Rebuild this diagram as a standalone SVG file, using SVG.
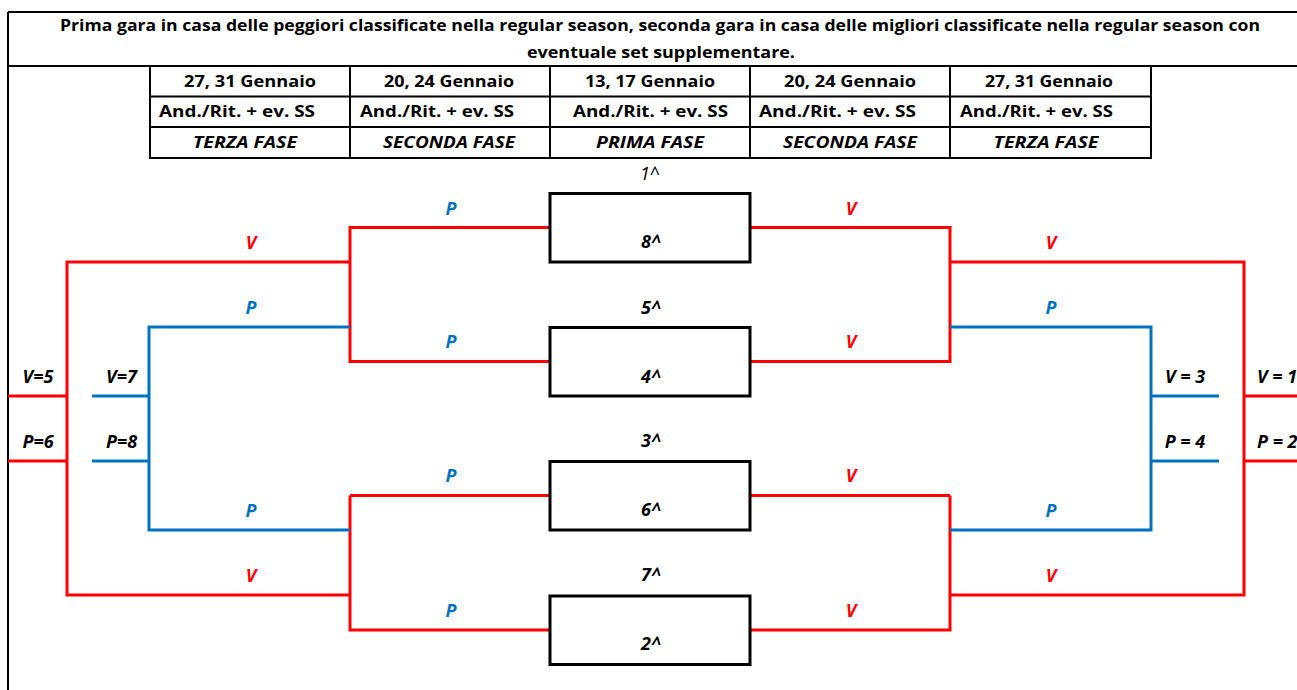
<svg xmlns="http://www.w3.org/2000/svg" width="1297" height="690" viewBox="0 0 1297 690">
<style>
text{font-family:"Open Sans","Noto Sans","Liberation Sans",Arial,sans-serif;font-weight:bold;font-size:16.5px;fill:#000}
.it{font-style:italic}
.mid{text-anchor:middle}
.red{fill:#FF0000}
.blue{fill:#0070C0}
.reg{font-weight:normal}
.lab{font-style:italic;font-size:18px}
.grid{stroke:#000;stroke-width:2;fill:none}
.box{fill:#fff;stroke:#000;stroke-width:3}
.cr{stroke:#FF0000;stroke-width:3;fill:none}
.cb{stroke:#0070C0;stroke-width:3;fill:none}
</style>
<rect width="1297" height="690" fill="#fff"/>
<g id="frame">
<path class="grid" d="M8,12 H1297 M8,12 V690 M8,66 H1297"/>
<text class="mid" x="660" y="31" textLength="1200" lengthAdjust="spacingAndGlyphs">Prima gara in casa delle peggiori classificate nella regular season, seconda gara in casa delle migliori classificate nella regular season con</text>
<text class="mid" x="661" y="58" textLength="268" lengthAdjust="spacingAndGlyphs">eventuale set supplementare.</text>
</g>
<g id="table">
<rect class="grid" x="150" y="66" width="1001" height="92"/>
<path class="grid" d="M150,96.5 H1151 M150,127 H1151 M350,66 V158 M550,66 V158 M750,66 V158 M950,66 V158"/>
<text class="mid" x="250" y="87" textLength="132" lengthAdjust="spacingAndGlyphs">27, 31 Gennaio</text>
<text class="mid" x="449" y="87" textLength="130" lengthAdjust="spacingAndGlyphs">20, 24 Gennaio</text>
<text class="mid" x="650" y="87" textLength="130" lengthAdjust="spacingAndGlyphs">13, 17 Gennaio</text>
<text class="mid" x="850" y="87" textLength="132" lengthAdjust="spacingAndGlyphs">20, 24 Gennaio</text>
<text class="mid" x="1049" y="87" textLength="128" lengthAdjust="spacingAndGlyphs">27, 31 Gennaio</text>
<text x="159" y="117" textLength="156" lengthAdjust="spacingAndGlyphs">And./Rit. + ev. SS</text>
<text x="360" y="117" textLength="154" lengthAdjust="spacingAndGlyphs">And./Rit. + ev. SS</text>
<text x="573" y="117" textLength="155" lengthAdjust="spacingAndGlyphs">And./Rit. + ev. SS</text>
<text x="759" y="117" textLength="157" lengthAdjust="spacingAndGlyphs">And./Rit. + ev. SS</text>
<text x="960" y="117" textLength="153" lengthAdjust="spacingAndGlyphs">And./Rit. + ev. SS</text>
<text class="it mid" x="245" y="148" textLength="104" lengthAdjust="spacingAndGlyphs">TERZA FASE</text>
<text class="it mid" x="449" y="148" textLength="132" lengthAdjust="spacingAndGlyphs">SECONDA FASE</text>
<text class="it mid" x="650" y="148" textLength="108" lengthAdjust="spacingAndGlyphs">PRIMA FASE</text>
<text class="it mid" x="850" y="148" textLength="134" lengthAdjust="spacingAndGlyphs">SECONDA FASE</text>
<text class="it mid" x="1046" y="148" textLength="105" lengthAdjust="spacingAndGlyphs">TERZA FASE</text>
</g>
<g id="connectors">
<path class="cr" d="M550,227.5 H350 V361.5 H550 M350,262 H67 V595 H350 M350,495.5 V630 H550 M350,495.5 H550 M8,396 H67 M8,461 H67"/>
<path class="cb" d="M350,327 H149 V530 H350 M92,396 H149 M92,461 H149"/>
<path class="cr" d="M750,227.5 H950 V361.5 H750 M950,262 H1244 V595 H950 M950,495.5 V630 H750 M950,495.5 H750 M1244,396 H1297 M1244,461 H1297"/>
<path class="cb" d="M950,327 H1151 V530 H950 M1151,396 H1219 M1151,461 H1219"/>
</g>
<g id="connector-labels">
<text class="lab mid blue" x="451" y="215">P</text>
<text class="lab mid red" x="251" y="249">V</text>
<text class="lab mid blue" x="251" y="314">P</text>
<text class="lab mid blue" x="451" y="348">P</text>
<text class="lab mid blue" x="451" y="482">P</text>
<text class="lab mid blue" x="251" y="517">P</text>
<text class="lab mid red" x="251" y="582">V</text>
<text class="lab mid blue" x="451" y="617">P</text>
<text class="lab mid red" x="851" y="215">V</text>
<text class="lab mid red" x="1051" y="249">V</text>
<text class="lab mid blue" x="1051" y="314">P</text>
<text class="lab mid red" x="851" y="348">V</text>
<text class="lab mid red" x="851" y="482">V</text>
<text class="lab mid blue" x="1051" y="517">P</text>
<text class="lab mid red" x="1051" y="582">V</text>
<text class="lab mid red" x="851" y="617">V</text>
<text class="lab mid" x="38" y="383">V=5</text>
<text class="lab mid" x="38" y="448">P=6</text>
<text class="lab mid" x="121.5" y="383">V=7</text>
<text class="lab mid" x="121.5" y="448">P=8</text>
<text class="lab mid" x="1185" y="383">V = 3</text>
<text class="lab mid" x="1185" y="448">P = 4</text>
<text class="lab" x="1257" y="383">V = 1</text>
<text class="lab" x="1257" y="448">P = 2</text>
</g>
<g id="match1">
<text class="lab reg mid" x="650" y="180">1^</text>
<rect class="box" x="550" y="193.5" width="200" height="68.5"/>
<text class="lab mid" x="651" y="248">8^</text>
</g>
<g id="match2">
<text class="lab mid" x="651" y="314">5^</text>
<rect class="box" x="550" y="327.5" width="200" height="68.5"/>
<text class="lab mid" x="651" y="383">4^</text>
</g>
<g id="match3">
<text class="lab mid" x="651" y="447">3^</text>
<rect class="box" x="550" y="461.5" width="200" height="68.5"/>
<text class="lab mid" x="651" y="516">6^</text>
</g>
<g id="match4">
<text class="lab mid" x="651" y="581">7^</text>
<rect class="box" x="550" y="596" width="200" height="68.5"/>
<text class="lab mid" x="651" y="650">2^</text>
</g>
</svg>
